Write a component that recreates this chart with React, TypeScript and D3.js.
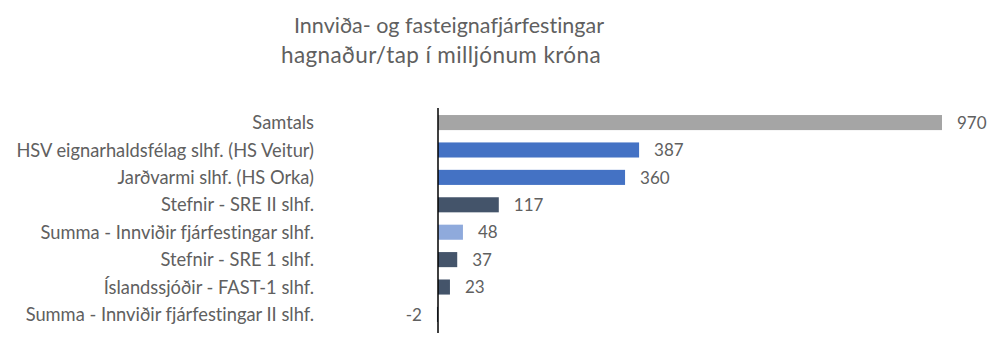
import React from "react";
import * as d3 from "d3";

const categories = [
  "Samtals",
  "HSV eignarhaldsfélag slhf. (HS Veitur)",
  "Jarðvarmi slhf. (HS Orka)",
  "Stefnir - SRE II slhf.",
  "Summa - Innviðir fjárfestingar slhf.",
  "Stefnir - SRE 1 slhf.",
  "Íslandssjóðir - FAST-1 slhf.",
  "Summa - Innviðir fjárfestingar II slhf.",
];
const values = [970, 387, 360, 117, 48, 37, 23, -2];
const colors = ["#A5A5A5", "#4472C4", "#4472C4", "#44546A", "#8FAADC", "#44546A", "#44546A", "#44546A"];
const title = "Innviða- og fasteignafjárfestingar";
const subtitle = "hagnaður/tap í milljónum króna";

const W = 1000;
const H = 356;
const FONT = "Lato, 'Open Sans', sans-serif";
const TEXT = "#606060";

export default function App() {
  const x = d3.scaleLinear().domain([0, 970]).range([438, 942]);
  const y = d3.scaleBand<string>().domain(categories).range([109, 328]).paddingInner(0.45).paddingOuter(0.22);
  return (
    <svg
      width={W}
      height={H}
      style={{ position: "absolute", left: 0, top: 0, background: "#fff", fontVariantLigatures: "none" }}
      fontFamily={FONT}
    >
      <text x={449} y={33} textAnchor="middle" fontSize={21.5} fill={TEXT}>{title}</text>
      <text x={441} y={63} textAnchor="middle" fontSize={22.5} letterSpacing={0.4} fill={TEXT}>{subtitle}</text>
      {categories.map((c, i) => {
        const v = values[i];
        const x0 = x(Math.min(0, v));
        const x1 = x(Math.max(0, v));
        const cy = (y(c) as number) + y.bandwidth() / 2;
        return (
          <g key={c}>
            <rect x={x0} y={y(c)} width={x1 - x0} height={y.bandwidth()} fill={colors[i]} />
            <text x={314} y={cy} dy="0.36em" textAnchor="end" fontSize={18.3} fill={TEXT}>{c}</text>
            <text
              x={v >= 0 ? x1 + 15 : x0 - 15}
              y={cy}
              dy="0.36em"
              textAnchor={v >= 0 ? "start" : "end"}
              fontSize={17}
              fill={TEXT}
            >
              {v}
            </text>
          </g>
        );
      })}
      <line x1={x(0)} x2={x(0)} y1={108} y2={333} stroke="#000" strokeWidth={1.5} />
    </svg>
  );
}
